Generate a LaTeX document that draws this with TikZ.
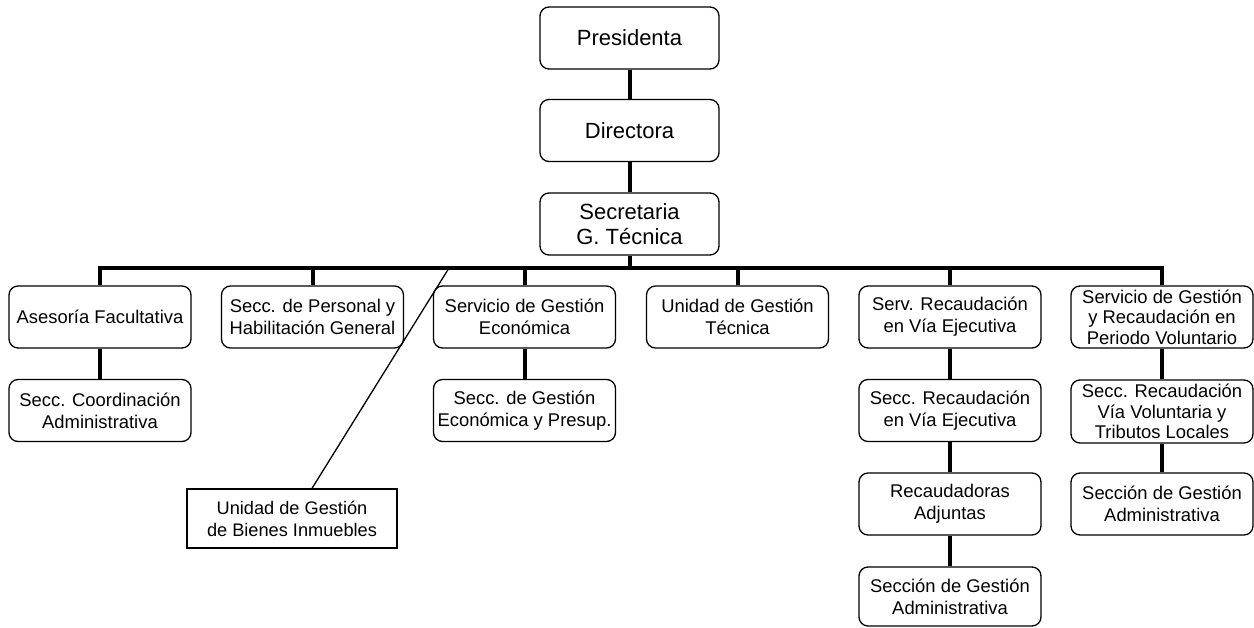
\documentclass[tikz,border=0pt]{standalone}
\usepackage{fontspec}
\setmainfont{Liberation Sans}
\begin{document}
\begin{tikzpicture}[x=1pt,y=-1pt,
  box/.style={draw, rounded corners=9pt, line width=1.3pt, minimum width=182pt, minimum height=62pt, inner sep=0pt, align=center, font=\fontsize{18.4}{22}\selectfont},
  bigbox/.style={box, minimum width=179pt, font=\fontsize{22}{25}\selectfont},
  tight/.style={font=\fontsize{18.4}{20.5}\selectfont},
  plainbox/.style={draw, line width=1.3pt, minimum width=210pt, minimum height=59pt, inner sep=0pt, align=center, font=\fontsize{18.2}{22}\selectfont},
  conn/.style={line width=4pt},
  thinline/.style={line width=1.3pt}]
\useasboundingbox (0,0) rectangle (1254,628);
% top
\node[bigbox] (pres) at (629.5,38) {Presidenta};
\node[bigbox] (dir) at (629.5,130.5) {Directora};
\node[bigbox] (sec) at (629.5,224) {Secretaria\\G. Técnica};
% row 1
\node[box] (a1) at (100,317) {Asesoría Facultativa};
\node[box] (a2) at (312.5,317) {Secc. de Personal y\\Habilitación General};
\node[box] (a3) at (524.5,317) {Servicio de Gestión\\Económica};
\node[box] (a4) at (737.5,317) {Unidad de Gestión\\Técnica};
\node[box] (a5) at (950,317) {Serv. Recaudación\\en Vía Ejecutiva};
\node[box,tight] (a6) at (1162,317) {Servicio de Gestión\\y Recaudación en\\Periodo Voluntario};
% row 2
\node[box] (b1) at (100,410.5) {Secc. Coordinación\\Administrativa};
\node[box] (b3) at (524.5,410.5) {Secc. de Gestión\\Económica y Presup.};
\node[box] (b5) at (950,410.5) {Secc. Recaudación\\en Vía Ejecutiva};
\node[box,tight,minimum height=63pt] (b6) at (1162,411.5) {Secc. Recaudación\\Vía Voluntaria y\\Tributos Locales};
% row 3
\node[box] (c5) at (950,504) {Recaudadoras\\Adjuntas};
\node[box] (c6) at (1162,504) {Sección de Gestión\\Administrativa};
% row 4
\node[box,minimum height=59pt] (d5) at (950,596.5) {Sección de Gestión\\Administrativa};
% extra
\node[plainbox] (ub) at (292,518.5) {Unidad de Gestión\\de Bienes Inmuebles};
% connectors
\coordinate (busL) at (100,268);
\coordinate (ubtop) at (449,268);
\draw[conn] (pres) -- (dir);
\draw[conn] (dir) -- (sec);
\draw[conn] (sec.south) -- (sec.south |- busL);
\draw[conn, line join=miter] (a1.north) -- (a1.north |- busL) -- (a6.north |- busL) -- (a6.north);
\foreach \n in {a2,a3,a4,a5} \draw[conn] (\n.north) -- (\n.north |- busL);
\draw[conn] (a1) -- (b1);
\draw[conn] (a3) -- (b3);
\draw[conn] (a5) -- (b5);
\draw[conn] (b5) -- (c5);
\draw[conn] (c5) -- (d5);
\draw[conn] (a6) -- (b6);
\draw[conn] (b6) -- (c6);
\draw[thinline] (ubtop) -- ([xshift=20pt]ub.north);
\end{tikzpicture}
\end{document}
